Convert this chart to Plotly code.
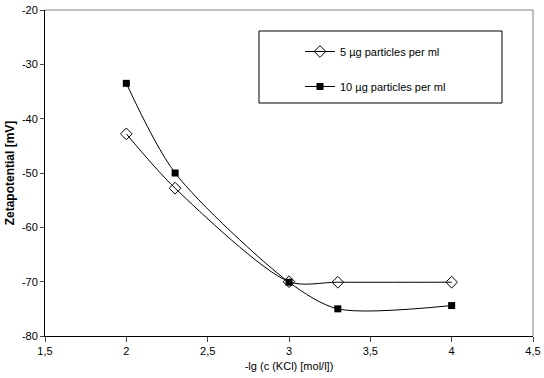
import plotly.graph_objects as go

x_vals = [2, 2.3, 3, 3.3, 4]
series_5 = [-42.8, -52.8, -70.0, -70.1, -70.1]
series_10 = [-33.5, -50.0, -70.1, -75.0, -74.4]
name_5 = "5 µg particles per ml"
name_10 = "10 µg particles per ml"
x_ticks = [1.5, 2, 2.5, 3, 3.5, 4, 4.5]
x_tick_labels = ["1,5", "2", "2,5", "3", "3,5", "4", "4,5"]
y_ticks = [-80, -70, -60, -50, -40, -30, -20]
y_tick_labels = ["-80", "-70", "-60", "-50", "-40", "-30", "-20"]

FONT = "Liberation Sans, Arial, sans-serif"

fig = go.Figure()
fig.add_trace(go.Scatter(
    x=x_vals, y=series_5, name=name_5, mode="lines+markers", legendgroup="a",
    line=dict(color="black", width=1, shape="spline", smoothing=0.8),
    marker=dict(symbol="diamond-open", size=9, color="black", line=dict(width=1)),
))
fig.add_trace(go.Scatter(
    x=x_vals, y=series_10, name=name_10, mode="lines+markers", legendgroup="b",
    line=dict(color="black", width=1, shape="spline", smoothing=0.8),
    marker=dict(symbol="square", size=7, color="black"),
))

fig.add_shape(type="rect", xref="paper", yref="paper",
              x0=(259-45)/488, x1=(502-45)/488, y0=(336-103)/326, y1=(336-31)/326,
              line=dict(color="black", width=1), fillcolor="white", layer="below")

fig.update_layout(
    width=544, height=378,
    margin=dict(l=45, r=11, t=10, b=42),
    paper_bgcolor="white", plot_bgcolor="white",
    font=dict(family=FONT, size=11, color="black"),
    showlegend=True,
    legend=dict(x=(300-45)/488, y=(336-37)/326, xanchor="left", yanchor="top",
                bgcolor="rgba(0,0,0,0)", borderwidth=0, tracegroupgap=16,
                traceorder="grouped", font=dict(size=11)),
    xaxis=dict(range=[1.5, 4.5], tickvals=x_ticks, ticktext=x_tick_labels,
               ticks="outside", ticklen=5, automargin=False,
               showline=True, linecolor="black", linewidth=1, mirror=False,
               showgrid=False, zeroline=False,
               title=dict(text="-lg (c (KCl) [mol/l])", font=dict(size=11), standoff=6)),
    yaxis=dict(range=[-80, -20], tickvals=y_ticks, ticktext=y_tick_labels,
               ticks="outside", ticklen=4, automargin=False,
               showline=True, linecolor="black", linewidth=1,
               showgrid=False, zeroline=False,
               title=dict(text="<b>Zetapotential [mV]</b>", font=dict(size=12), standoff=4)),
)
# top and right frame in gray
fig.add_shape(type="line", xref="paper", yref="paper", x0=0, x1=1, y0=1, y1=1,
              line=dict(color="#808080", width=1))
fig.add_shape(type="line", xref="paper", yref="paper", x0=1, x1=1, y0=0, y1=1,
              line=dict(color="#808080", width=1))

fig.write_html("out.html", config={"displayModeBar": False},
               post_script="document.body.style.margin='0';document.body.style.padding='0';")
